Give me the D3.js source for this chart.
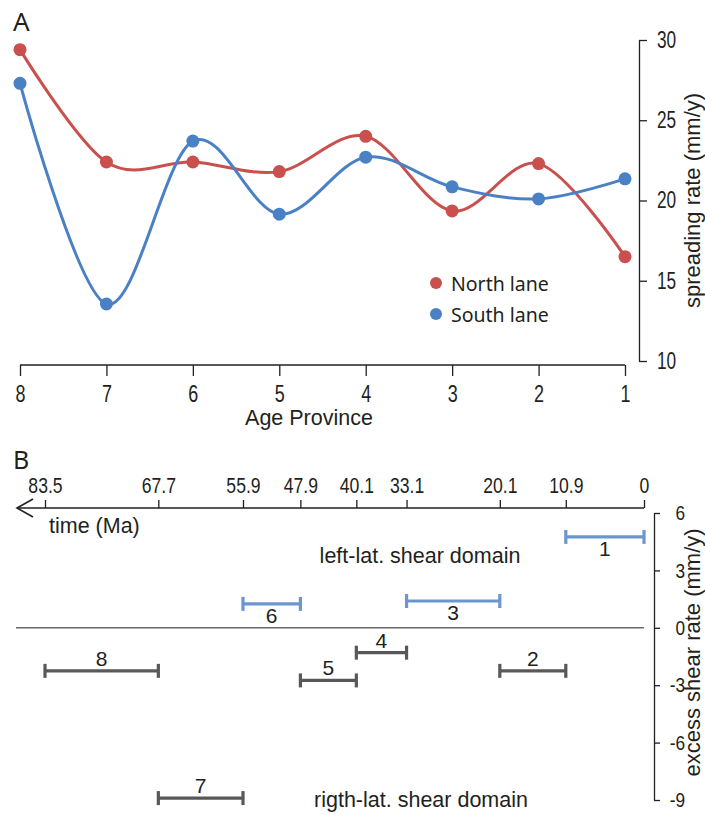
<!DOCTYPE html>
<html>
<head>
<meta charset="utf-8">
<script src="https://cdn.jsdelivr.net/npm/d3@7"></script>
<style>
  html, body { margin: 0; padding: 0; background: #fff; }
  svg { display: block; }
  .narrow { font-family: "Liberation Sans", Arial, sans-serif; }
  .arial { font-family: "Liberation Sans", Arial, sans-serif; }
  .myriad { font-family: "Noto Sans", "Open Sans", sans-serif; }
</style>
</head>
<body>
<script>
// Panel A: spreading rate per age province
const provinces = [8, 7, 6, 5, 4, 3, 2, 1];
const northLane = [29.4, 22.4, 22.4, 21.8, 24.0, 19.35, 22.3, 16.5];
const southLane = [27.3, 13.55, 23.7, 19.15, 22.7, 20.85, 20.1, 21.35];
const spreadTicks = [10, 15, 20, 25, 30];
const seriesNames = ["North lane", "South lane"];

// Panel B: excess shear rate per time interval
const timeTicks = [83.5, 67.7, 55.9, 47.9, 40.1, 33.1, 20.1, 10.9, 0];
const shearIds = [1, 2, 3, 4, 5, 6, 7, 8];
const shearFrom = [10.9, 20.1, 33.1, 40.1, 47.9, 55.9, 67.7, 83.5];
const shearTo = [0, 10.9, 20.1, 33.1, 40.1, 47.9, 55.9, 67.7];
const shearRate = [4.75, -2.25, 1.4, -1.3, -2.75, 1.25, -8.9, -2.25];
const shearTicks = [6, 3, 0, -3, -6, -9];

const W = 705, H = 815;
const ink = "#231f20";
const red = "#c9504d", blue = "#4a80c4";
const barBlue = "#6d95cf", barGray = "#585858";

const svg = d3.select("body").append("svg")
  .attr("width", W).attr("height", H)
  .attr("viewBox", `0 0 ${W} ${H}`);

// squeeze tick labels horizontally to a condensed look
function condense(sel, k = 0.78) {
  sel.each(function () {
    const w = this.getComputedTextLength();
    d3.select(this).attr("textLength", w * k).attr("lengthAdjust", "spacingAndGlyphs");
  });
}

/* ---------------- Panel A ---------------- */
const xA = d3.scalePoint().domain(provinces).range([20, 625]);
const yA = d3.scaleLinear().domain([10, 30]).range([361, 40]);

svg.append("text").attr("class", "myriad")
  .attr("x", 13).attr("y", 31)
  .attr("font-size", 26).attr("fill", ink).text("A");

// bottom axis
const axA = svg.append("g")
  .attr("transform", `translate(0,365)`)
  .call(d3.axisBottom(xA).tickSize(11).tickSizeOuter(0).tickPadding(10));
axA.selectAll("text").attr("class", "narrow").attr("font-size", 23).attr("fill", ink)
  .call(condense);
axA.selectAll("path, line").attr("stroke", ink).attr("stroke-width", 1.3);
axA.select(".domain").attr("d", `M${xA(8)},0H${xA(1)}`);

svg.append("text").attr("class", "arial")
  .attr("x", 309).attr("y", 425).attr("text-anchor", "middle")
  .attr("font-size", 21.5).attr("fill", ink).text("Age Province");

// right axis
const ayA = svg.append("g")
  .attr("transform", `translate(639,0)`)
  .call(d3.axisRight(yA).tickValues(spreadTicks).tickSize(8).tickSizeOuter(0).tickPadding(10));
ayA.selectAll("text").attr("class", "narrow").attr("font-size", 23).attr("fill", ink)
  .call(condense, 0.75);
ayA.selectAll("path, line").attr("stroke", ink).attr("stroke-width", 1.3);

svg.append("text").attr("class", "arial")
  .attr("transform", `translate(700,${(yA(10) + yA(30)) / 2}) rotate(-90)`)
  .attr("text-anchor", "middle").attr("font-size", 22).attr("fill", ink)
  .text("spreading rate (mm/y)");

// smoothed series
const series = [
  { name: seriesNames[0], values: northLane, color: red },
  { name: seriesNames[1], values: southLane, color: blue }
];
const line = d3.line()
  .x((d, i) => xA(provinces[i]))
  .y(d => yA(d))
  .curve(d3.curveCardinal.tension(0));

series.forEach(s => {
  svg.append("path")
    .attr("d", line(s.values))
    .attr("fill", "none").attr("stroke", s.color).attr("stroke-width", 3);
});
series.forEach(s => {
  svg.append("g").selectAll("circle").data(s.values).join("circle")
    .attr("cx", (d, i) => xA(provinces[i]))
    .attr("cy", d => yA(d))
    .attr("r", 6.5).attr("fill", s.color);
});

// legend
series.forEach((s, i) => {
  const y = 283 + i * 31;
  svg.append("circle").attr("cx", 436).attr("cy", y).attr("r", 6).attr("fill", s.color);
  svg.append("text").attr("class", "myriad")
    .attr("x", 451).attr("y", y + 7.5)
    .attr("font-size", 19.5).attr("fill", ink).text(s.name);
});

/* ---------------- Panel B ---------------- */
const xB = d3.scaleLinear().domain([0, 83.5]).range([644, 45]);
const yB = d3.scaleLinear().domain([-9, 6]).range([800, 513]);

svg.append("text").attr("class", "myriad")
  .attr("x", 13).attr("y", 469)
  .attr("font-size", 25).attr("fill", ink).text("B");

// time axis with arrow pointing to older ages
const axisY = 508;
const axB = svg.append("g")
  .attr("transform", `translate(0,${axisY})`)
  .call(d3.axisTop(xB).tickValues(timeTicks).tickSize(8).tickSizeOuter(0)
    .tickPadding(7).tickFormat(d => String(d)));
axB.selectAll("text").attr("class", "narrow").attr("font-size", 22).attr("fill", ink)
  .call(condense, 0.8);
axB.selectAll("path, line").attr("stroke", ink).attr("stroke-width", 1.3);
const tipX = xB(83.5) - 28;
axB.select(".domain").attr("d", `M${tipX},0H${xB(0)}`);
svg.append("path")
  .attr("d", `M${tipX + 16},${axisY - 9}L${tipX},${axisY}L${tipX + 16},${axisY + 9}`)
  .attr("fill", "none").attr("stroke", ink).attr("stroke-width", 1.6);

svg.append("text").attr("class", "arial")
  .attr("x", 49).attr("y", 533)
  .attr("font-size", 21.5).attr("fill", ink).text("time (Ma)");

// zero line
svg.append("line")
  .attr("x1", tipX - 1).attr("x2", xB(0))
  .attr("y1", yB(0)).attr("y2", yB(0))
  .attr("stroke", "#6a6a6a").attr("stroke-width", 1.4);

// right axis
const ayB = svg.append("g")
  .attr("transform", `translate(654,0)`)
  .call(d3.axisRight(yB).tickValues(shearTicks).tickSize(6).tickSizeOuter(0)
    .tickPadding(25).tickFormat(d => String(d)));
ayB.selectAll("text").attr("class", "narrow").attr("font-size", 21)
  .attr("text-anchor", "end").attr("fill", ink)
  .call(condense, 0.82);
ayB.selectAll("path, line").attr("stroke", ink).attr("stroke-width", 1.3);

svg.append("text").attr("class", "arial")
  .attr("transform", `translate(700,${(yB(-9) + yB(6)) / 2 - 4}) rotate(-90)`)
  .attr("text-anchor", "middle").attr("font-size", 22).attr("fill", ink)
  .text("excess shear rate (mm/y)");

// domain labels
svg.append("text").attr("class", "arial")
  .attr("x", 420).attr("y", 563).attr("text-anchor", "middle")
  .attr("font-size", 21.5).attr("fill", ink).text("left-lat. shear domain");
svg.append("text").attr("class", "arial")
  .attr("x", 421).attr("y", 807).attr("text-anchor", "middle")
  .attr("font-size", 21.5).attr("fill", ink).text("rigth-lat. shear domain");

// interval bars
const bars = shearIds.map((id, i) => ({
  id, from: shearFrom[i], to: shearTo[i], rate: shearRate[i]
}));
const gBars = svg.append("g");
bars.forEach(b => {
  const c = b.rate > 0 ? barBlue : barGray;
  const x1 = xB(b.from), x2 = xB(b.to), y = yB(b.rate);
  const g = gBars.append("g").attr("stroke", c).attr("stroke-width", 3.2);
  g.append("line").attr("x1", x1).attr("x2", x2).attr("y1", y).attr("y2", y);
  g.append("line").attr("x1", x1).attr("x2", x1).attr("y1", y - 7).attr("y2", y + 7);
  g.append("line").attr("x1", x2).attr("x2", x2).attr("y1", y - 7).attr("y2", y + 7);
  gBars.append("text").attr("class", "arial")
    .attr("x", (x1 + x2) / 2)
    .attr("y", b.rate > 0 ? y + 19 : y - 5)
    .attr("text-anchor", "middle").attr("font-size", 21).attr("fill", ink)
    .text(b.id);
});
</script>
</body>
</html>
